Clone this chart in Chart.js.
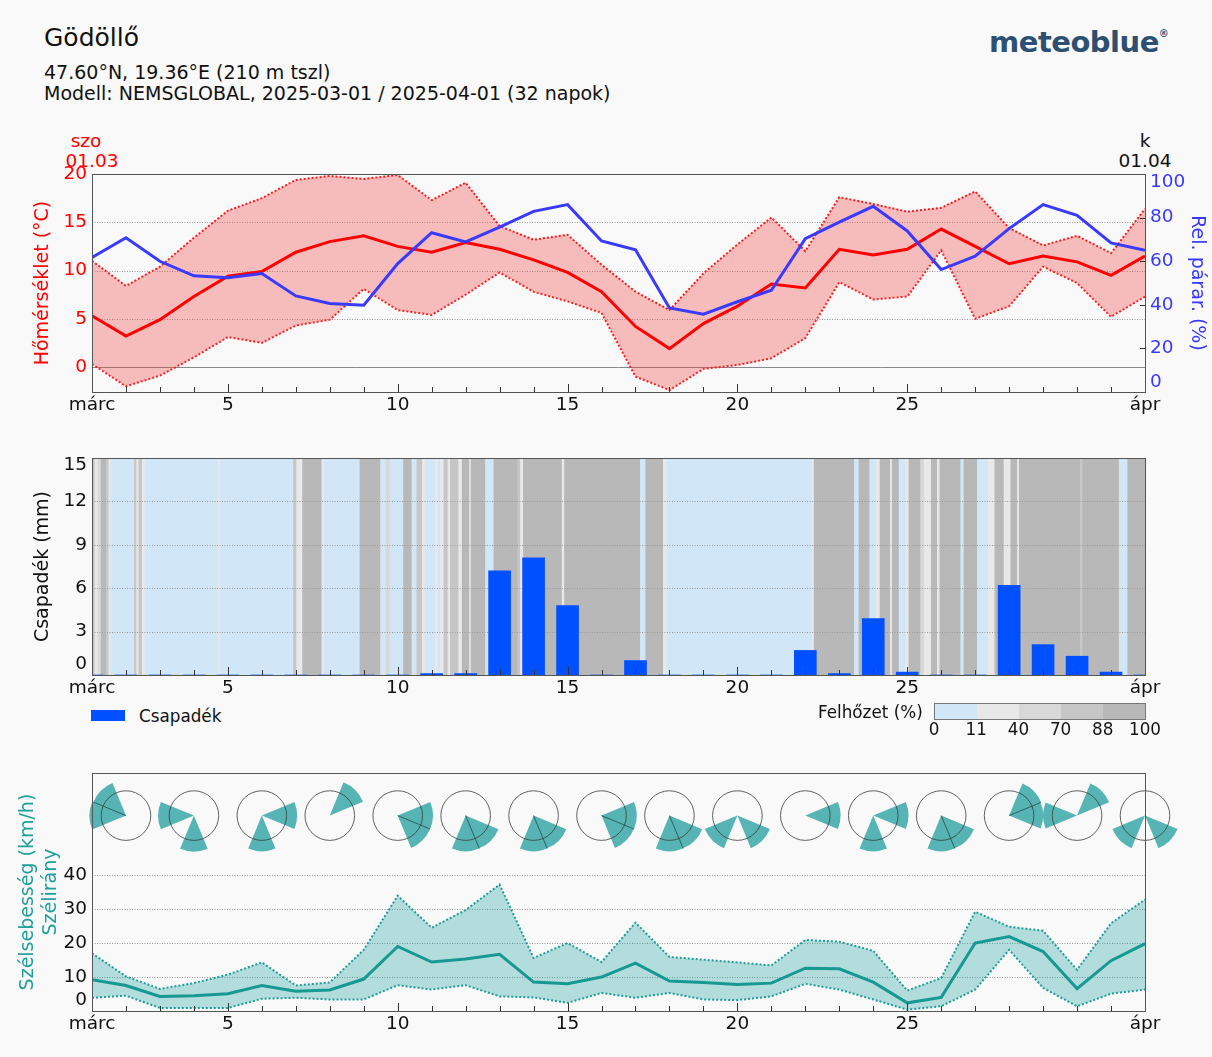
<!DOCTYPE html>
<html>
<head>
<meta charset="utf-8">
<script src="https://cdn.jsdelivr.net/npm/chart.js@4.4.1/dist/chart.umd.min.js"></script>
<style>
  body { margin: 0; background: #fff; font-family: "DejaVu Sans", sans-serif; }
  #page { position: relative; width: 1212px; height: 1057px; background: #f9f9f9; overflow: hidden; }
  .t { position: absolute; white-space: nowrap; line-height: 22px; font-size: 16.8px; color: #111; }
  .c { transform: translateX(-50%); }
  canvas { position: absolute; left: 0; }
</style>
</head>
<body>
<div id="page">
  <div class="t" style="left:44px;top:23px;font-size:25px;line-height:30px">Gödöllő</div>
  <div class="t" style="left:44px;top:61px;font-size:19px">47.60°N, 19.36°E (210 m tszl)</div>
  <div class="t" style="left:44px;top:82px;font-size:19px">Modell: NEMSGLOBAL, 2025-03-01 / 2025-04-01 (32 napok)</div>
  <div class="t" style="left:989px;top:24px;font-size:29px;line-height:36px;font-weight:bold;color:#2d5072;letter-spacing:-0.5px">meteoblue<span style="font-size:10px;vertical-align:top;line-height:20px">®</span></div>

  <div class="t c" style="left:86px;top:130px;font-size:18.5px;color:#f00">szo</div>
  <div class="t c" style="left:92px;top:150px;font-size:18.5px;color:#f00">01.03</div>
  <div class="t c" style="left:1145px;top:130px;font-size:18.5px">k</div>
  <div class="t c" style="left:1145px;top:150px;font-size:18.5px">01.04</div>

  <canvas id="c1" width="1212" height="267" style="top:158px"></canvas>
  <canvas id="c2" width="1212" height="263" style="top:442px"></canvas>
  <canvas id="c3" width="1212" height="293" style="top:757px"></canvas>

  <!-- legends -->
  <div style="position:absolute;left:91px;top:710px;width:34px;height:11px;background:#0050ff"></div>
  <div class="t" style="left:139px;top:705px">Csapadék</div>
  <div class="t" style="left:818px;top:701px">Felhőzet (%)</div>
  <div id="cloudLegend" style="position:absolute;left:934px;top:703px;width:210px;height:15px;border:1px solid #777;display:flex"></div>
  <div id="cloudLegendLabels"></div>
</div>

<script>
// ---------- data ----------
const dayLabels = { 0: 'márc', 4: '5', 9: '10', 14: '15', 19: '20', 24: '25', 31: 'ápr' };
const days = Array.from({ length: 32 }, (_, i) => i); // 1 March .. 1 April

const tempMax  = [11.0, 8.4, 10.4, 13.4, 16.2, 17.5, 19.4, 19.8, 19.5, 19.9, 17.3, 19.1, 14.6, 13.2, 13.7, 10.6,
                  7.8, 5.9, 9.7, 12.7, 15.5, 12.0, 17.6, 16.9, 16.1, 16.5, 18.2, 14.4, 12.6, 13.6, 11.8, 16.4];
const tempMin  = [0.3, -2.0, -0.9, 1.0, 3.1, 2.5, 4.3, 4.9, 8.1, 5.9, 5.4, 7.5, 9.8, 7.8, 6.8, 5.6,
                  -1.0, -2.4, -0.2, 0.2, 0.9, 3.0, 8.8, 7.0, 7.3, 12.1, 5.0, 6.3, 10.4, 8.7, 5.2, 7.3];
const tempMean = [5.3, 3.2, 4.9, 7.3, 9.4, 9.9, 11.9, 13.0, 13.6, 12.5, 11.9, 12.9, 12.2, 11.1, 9.8, 7.8,
                  4.2, 1.9, 4.5, 6.3, 8.6, 8.2, 12.2, 11.6, 12.2, 14.3, 12.5, 10.7, 11.5, 10.9, 9.5, 11.5];
const humidity = [61.7, 70.8, 60.0, 53.3, 52.4, 54.4, 44.1, 40.6, 39.8, 58.9, 73.1, 68.9, 75.7, 82.9, 86.0, 69.3,
                  65.3, 38.6, 35.7, 41.4, 46.7, 70.4, 78.0, 85.2, 73.9, 56.2, 62.3, 75.0, 86.0, 81.1, 68.4, 65.0];

const precip = [0, 0, 0, 0, 0, 0, 0, 0, 0, 0, 0.1, 0.1, 7.2, 8.1, 4.8, 0,
                1.0, 0, 0, 0, 0, 1.7, 0.1, 3.9, 0.2, 0, 0, 6.2, 2.1, 1.3, 0.2, 0];

// cloud cover (%) from each start (in days after 1 March) until the next start
const cloudStart = [0.00, 0.08, 0.16, 0.26, 0.42, 0.49, 0.55, 1.24, 1.31, 1.37, 1.47, 1.55, 3.71, 3.76, 5.92, 6.02,
                    6.19, 6.76, 6.83, 7.88, 8.49, 8.64, 8.77, 9.16, 9.41, 9.55, 9.72, 9.80, 10.09, 10.17, 10.25, 10.35,
                    10.47, 10.54, 10.79, 10.89, 11.11, 11.15, 11.58, 11.82, 12.53, 12.61, 12.69, 13.83, 13.90, 16.14, 16.29, 16.81,
                    16.91, 21.20, 21.25, 22.44, 22.57, 22.89, 23.09, 23.19, 23.50, 23.55, 23.75, 23.95, 24.04, 24.39, 24.49, 24.70,
                    24.88, 24.95, 25.57, 25.66, 26.06, 26.37, 26.57, 26.84, 27.04, 27.24, 27.29, 29.10, 29.15, 30.23, 30.48, 31.00];
const cloudCover = [80, 25, 55, 95, 80, 25, 5, 80, 25, 80, 25, 5, 25, 5, 80, 25,
                    95, 25, 5, 95, 5, 55, 5, 95, 5, 80, 25, 5, 25, 5, 25, 80,
                    25, 80, 25, 95, 25, 95, 5, 95, 80, 25, 95, 25, 95, 5, 95, 25,
                    5, 25, 95, 5, 95, 5, 25, 95, 25, 95, 5, 25, 95, 55, 25, 95,
                    25, 95, 5, 95, 5, 25, 95, 25, 95, 25, 95, 80, 95, 5, 95, 95];
const cloudSteps  = [0, 11, 40, 70, 88, 100];
const cloudColors = ['#d1e6f6', '#e8e8e8', '#d8d8d8', '#c6c6c6', '#b8b8b8'];

const windMax  = [17.0, 10.2, 6.5, 8.2, 10.7, 14.3, 7.5, 8.4, 18.0, 33.9, 24.5, 29.7, 37.2, 15.6, 20.0, 14.4,
                  26.0, 15.9, 15.1, 14.3, 13.4, 20.9, 20.4, 17.7, 6.0, 9.7, 29.2, 24.8, 23.6, 12.1, 25.8, 32.8];
const windMin  = [3.9, 4.5, 0.9, 0.9, 0.9, 3.6, 3.9, 3.4, 3.4, 7.6, 6.3, 7.6, 4.3, 4.0, 2.4, 5.3,
                  3.9, 5.3, 3.4, 3.2, 4.3, 8.0, 6.3, 3.4, 0.4, 1.4, 6.3, 18.0, 6.8, 1.4, 5.1, 6.3];
const windMean = [9.2, 7.5, 4.3, 4.5, 5.1, 7.5, 5.8, 6.2, 9.4, 19.0, 14.4, 15.3, 16.7, 8.5, 8.0, 10.0,
                  14.1, 8.8, 8.4, 7.8, 8.2, 12.6, 12.4, 8.5, 2.4, 4.0, 20.0, 21.9, 17.5, 6.6, 14.8, 19.8];

// wind roses every 2 days: relative length per sector N, NE, E, SE, S, SW, W, NW
const roseDays = [1, 3, 5, 7, 9, 11, 13, 15, 17, 19, 21, 23, 25, 27, 29, 31];
const roses = [
  [0, 0, 0, 0, 0, 0, 1.47, 1.42],
  [0, 0, 0, 0, 1.45, 0, 1.44, 0],
  [0, 0, 1.42, 0, 1.44, 0, 0, 0],
  [0, 1.45, 0, 0, 0, 0, 0, 0],
  [0, 0, 1.42, 1.41, 0, 0, 0, 0],
  [0, 0, 0, 1.43, 1.44, 0, 0, 0],
  [0, 0, 0, 1.43, 1.44, 0, 0, 0],
  [0, 0, 1.42, 1.41, 0, 0, 0, 0],
  [0, 0, 0, 1.43, 1.44, 0, 0, 0],
  [0, 0, 0, 1.42, 0, 1.42, 0, 0],
  [0, 0, 1.42, 0, 0, 0, 0, 0],
  [0, 0, 1.42, 0, 1.44, 0, 0, 0],
  [0, 0, 0, 1.43, 1.44, 0, 0, 0],
  [0, 1.40, 1.37, 0, 0, 0, 0, 0],
  [0, 1.40, 0, 0, 0, 0, 1.37, 0],
  [0, 0, 0, 1.42, 0, 1.42, 0, 0]
];

// ---------- helpers ----------
const TICK_SIZE = 18.5;
Chart.defaults.font.family = '"DejaVu Sans", sans-serif';
Chart.defaults.font.size = TICK_SIZE;
Chart.defaults.color = '#111';
Chart.defaults.animation = false;

const pts = arr => days.map((d, i) => ({ x: d, y: arr[i] }));

function xAxis(h) {
  return {
    type: 'linear', min: 0, max: 31,
    grid: { display: false, drawTicks: false }, border: { display: false },
    afterBuildTicks: s => { s.ticks = Object.keys(dayLabels).map(v => ({ value: +v })); },
    afterFit: s => { s.height = h; },
    ticks: { padding: 2, maxRotation: 0, autoSkip: false, callback: v => dayLabels[v] ?? '' }
  };
}

// edge labels (hidden here, drawn nudged inward by the panel plugin)
function yAxis(min, max, ticks, width, pos, title, color, hide, extraTitle) {
  return {
    type: 'linear', position: pos, min, max,
    grid: { display: false, drawTicks: false }, border: { display: false },
    afterBuildTicks: s => { s.ticks = ticks.map(v => ({ value: v })); },
    afterFit: s => { s.width = width; },
    ticks: { padding: 5, color, autoSkip: false, callback: v => (hide || []).includes(v) ? '' : v },
    title: Object.assign({ display: true, text: title, color, font: { size: 19 }, padding: { top: 4, bottom: 4 } }, extraTitle || {})
  };
}

// frame, dotted grid, inward day ticks, optional cloud stripes / roses
function panelPlugin(yId, gridVals, opts) {
  opts = opts || {};
  return {
    id: 'panel',
    beforeDatasetsDraw(chart) {
      const { ctx, chartArea: a } = chart;
      const xs = chart.scales.x, ys = chart.scales[yId];
      ctx.save();
      if (opts.clouds) {
        for (let i = 0; i < cloudStart.length - 1; i++) {
          const c = cloudCover[i];
          let k = 0;
          while (k < 4 && c >= cloudSteps[k + 1]) k++;
          const x0 = xs.getPixelForValue(cloudStart[i]);
          const x1 = xs.getPixelForValue(cloudStart[i + 1]);
          ctx.fillStyle = cloudColors[k];
          ctx.fillRect(x0, a.top, x1 - x0 + 0.3, a.bottom - a.top);
        }
      }
      ctx.strokeStyle = '#9a9a9a';
      ctx.lineWidth = 1;
      ctx.setLineDash([1, 1.5]);
      gridVals.forEach(v => {
        const y = Math.round(ys.getPixelForValue(v)) + 0.5;
        ctx.beginPath(); ctx.moveTo(a.left, y); ctx.lineTo(a.right, y); ctx.stroke();
      });
      ctx.setLineDash([]);
      if (opts.zero) {
        const y = Math.round(ys.getPixelForValue(0)) + 0.5;
        ctx.strokeStyle = '#888';
        ctx.beginPath(); ctx.moveTo(a.left, y); ctx.lineTo(a.right, y); ctx.stroke();
      }
      ctx.restore();
    },
    afterDatasetsDraw(chart) {
      const { ctx, chartArea: a } = chart;
      const xs = chart.scales.x;
      ctx.save();
      if (opts.roses) drawRoses(chart);
      ctx.strokeStyle = '#333';
      ctx.lineWidth = 1;
      days.forEach(d => {
        const x = Math.round(xs.getPixelForValue(d)) + 0.5;
        const len = dayLabels[d] !== undefined ? 8 : 5;
        ctx.beginPath(); ctx.moveTo(x, a.bottom); ctx.lineTo(x, a.bottom - len); ctx.stroke();
      });
      if (opts.rightTicks) {
        const ys = chart.scales[opts.rightTicks.id];
        opts.rightTicks.vals.forEach(v => {
          const y = Math.round(ys.getPixelForValue(v)) + 0.5;
          ctx.beginPath(); ctx.moveTo(a.right, y); ctx.lineTo(a.right - 5, y); ctx.stroke();
        });
      }
      ctx.strokeStyle = '#555';
      ctx.strokeRect(Math.round(a.left) + 0.5, Math.round(a.top) + 0.5,
                     Math.round(a.right - a.left), Math.round(a.bottom - a.top));
      // nudged edge labels
      (opts.edgeLabels || []).forEach(e => {
        const s = chart.scales[e.id];
        ctx.font = TICK_SIZE + 'px "DejaVu Sans", sans-serif';
        ctx.fillStyle = s.options.ticks.color;
        ctx.textBaseline = 'middle';
        ctx.textAlign = s.position === 'left' ? 'right' : 'left';
        const x = s.position === 'left' ? s.right - 5 : s.left + 5;
        ctx.fillText(String(e.value), x, s.getPixelForValue(e.value) + e.dy);
      });
      ctx.restore();
    }
  };
}

function drawRoses(chart) {
  const { ctx } = chart;
  const xs = chart.scales.x, ys = chart.scales.y;
  const cy = ys.getPixelForValue(57.5);
  const r = ys.getPixelForValue(0) - ys.getPixelForValue(7.3);
  const rad = deg => (deg - 90) * Math.PI / 180;
  roseDays.forEach((d, i) => {
    const cx = xs.getPixelForValue(d);
    const lens = roses[i];
    ctx.fillStyle = 'rgba(40,160,160,0.78)';
    lens.forEach((L, k) => {
      if (!L) return;
      ctx.beginPath();
      ctx.moveTo(cx, cy);
      ctx.arc(cx, cy, L * r, rad(k * 45 - 22.5), rad(k * 45 + 22.5));
      ctx.closePath();
      ctx.fill();
    });
    ctx.strokeStyle = 'rgba(20,60,60,0.75)';
    ctx.lineWidth = 1;
    lens.forEach((L, k) => {
      const n = lens[(k + 1) % 8];
      if (!L || !n) return;
      const a = rad(k * 45 + 22.5), l = Math.min(L, n) * r;
      ctx.beginPath(); ctx.moveTo(cx, cy); ctx.lineTo(cx + Math.cos(a) * l, cy + Math.sin(a) * l); ctx.stroke();
    });
    ctx.strokeStyle = 'rgba(60,60,60,0.8)';
    ctx.beginPath(); ctx.arc(cx, cy, r, 0, Math.PI * 2); ctx.stroke();
  });
}

// ---------- chart 1: temperature / humidity ----------
new Chart(document.getElementById('c1'), {
  type: 'line',
  data: {
    datasets: [
      { label: 'Rel. párar.', data: pts(humidity), yAxisID: 'y1', borderColor: '#3a3aff', borderWidth: 3, pointRadius: 0, order: 0 },
      { label: 'Hőmérséklet', data: pts(tempMean), yAxisID: 'y', borderColor: '#ff0000', borderWidth: 3, pointRadius: 0, order: 1 },
      { label: 'max', data: pts(tempMax), yAxisID: 'y', borderColor: '#ff1a1a', borderWidth: 2, borderDash: [2, 2],
        pointRadius: 0, fill: '+1', backgroundColor: 'rgba(240,70,70,0.34)', order: 2 },
      { label: 'min', data: pts(tempMin), yAxisID: 'y', borderColor: '#ff1a1a', borderWidth: 2, borderDash: [2, 2],
        pointRadius: 0, fill: false, order: 3 }
    ]
  },
  options: {
    responsive: false,
    layout: { padding: { left: 28, right: 0, top: 10, bottom: 0 } },
    plugins: { legend: { display: false }, tooltip: { enabled: false } },
    scales: {
      x: xAxis(33),
      y: yAxis(-2.6, 20, [0, 5, 10, 15, 20], 64, 'left', 'Hőmérséklet (°C)', '#f00'),
      y1: yAxis(0, 100, [0, 20, 40, 60, 80, 100], 67, 'right', 'Rel. párar. (%)', '#3a3aff', [0, 100])
    }
  },
  plugins: [panelPlugin('y', [5, 10, 15], {
    zero: true,
    rightTicks: { id: 'y1', vals: [20, 40, 60, 80] },
    edgeLabels: [{ id: 'y1', value: 100, dy: 8 }, { id: 'y1', value: 0, dy: -10 }]
  })]
});

// ---------- chart 2: precipitation + cloud cover ----------
new Chart(document.getElementById('c2'), {
  type: 'bar',
  data: {
    datasets: [
      { label: 'Csapadék', data: pts(precip), backgroundColor: '#0050ff', barThickness: 22 }
    ]
  },
  options: {
    responsive: false,
    layout: { padding: { left: 28, right: 67, top: 13, bottom: 0 } },
    plugins: { legend: { display: false }, tooltip: { enabled: false } },
    scales: {
      x: Object.assign(xAxis(30), { offset: false }),
      y: yAxis(0, 15, [0, 3, 6, 9, 12, 15], 64, 'left', 'Csapadék (mm)', '#111', [0, 15])
    }
  },
  plugins: [panelPlugin('y', [3, 6, 9, 12], {
    clouds: true,
    edgeLabels: [{ id: 'y', value: 15, dy: 7 }, { id: 'y', value: 0, dy: -11 }]
  })]
});

// ---------- chart 3: wind ----------
new Chart(document.getElementById('c3'), {
  type: 'line',
  data: {
    datasets: [
      { label: 'Szélsebesség', data: pts(windMean), borderColor: '#169893', borderWidth: 3, pointRadius: 0, order: 0 },
      { label: 'max', data: pts(windMax), borderColor: '#1c9d98', borderWidth: 2, borderDash: [2, 2],
        pointRadius: 0, fill: '+1', backgroundColor: 'rgba(32,160,158,0.32)', order: 1 },
      { label: 'min', data: pts(windMin), borderColor: '#1c9d98', borderWidth: 2, borderDash: [2, 2],
        pointRadius: 0, fill: false, order: 2 }
    ]
  },
  options: {
    responsive: false,
    layout: { padding: { left: 13, right: 67, top: 12, bottom: 0 } },
    plugins: { legend: { display: false }, tooltip: { enabled: false } },
    scales: {
      x: xAxis(39),
      y: yAxis(0, 70, [0, 10, 20, 30, 40], 79, 'left', ['Szélsebesség (km/h)', 'Szélirány'], '#111', [0],
        { color: '#21a09c', font: { size: 19, lineHeight: 1.2 } })
    }
  },
  plugins: [panelPlugin('y', [10, 20, 30, 40], {
    roses: true,
    edgeLabels: [{ id: 'y', value: 0, dy: -11 }]
  })]
});

// ---------- cloud legend ----------
const leg = document.getElementById('cloudLegend');
const legLabels = document.getElementById('cloudLegendLabels');
cloudColors.forEach(c => {
  const b = document.createElement('div');
  b.style.cssText = 'flex:1;background:' + c;
  leg.appendChild(b);
});
cloudSteps.forEach((v, i) => {
  const t = document.createElement('div');
  t.className = 't c';
  t.style.cssText = 'left:' + (934 + i * 42.2) + 'px;top:718px';
  t.textContent = v;
  legLabels.appendChild(t);
});
</script>
</body>
</html>
